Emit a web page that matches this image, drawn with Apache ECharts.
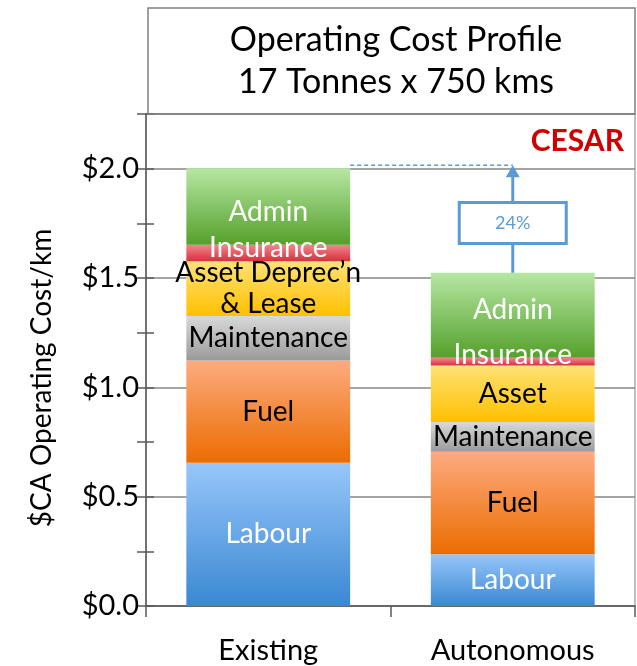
<!DOCTYPE html>
<html>
<head>
<meta charset="utf-8">
<script src="https://cdn.jsdelivr.net/npm/echarts@6/dist/echarts.min.js"></script>
<style>
  html, body { margin: 0; padding: 0; background: #fff; }
  #chart { width: 637px; height: 666px; }
</style>
</head>
<body>
<div id="chart"></div>
<script>
// data ($CA per km)
const categories = ['Existing', 'Autonomous'];
const labour = [0.655, 0.237];
const fuel = [0.468, 0.468];
const maintenance = [0.203, 0.137];
const asset = [0.251, 0.258];
const insurance = [0.075, 0.035];
const admin = [0.350, 0.389];
const assetLabels = ['Asset Deprec\u2019n\n& Lease', 'Asset'];
const changeLabel = '24%';

const FONT = 'Lato, "Open Sans", sans-serif';
const BLUE = '#5b9bd5';

function grad (top, bottom) {
  return new echarts.graphic.LinearGradient(0, 0, 0, 1, [
    { offset: 0, color: top },
    { offset: 1, color: bottom }
  ]);
}

function segment (name, values, top, bottom, textColor, offsets, fmt) {
  return {
    name: name,
    type: 'bar',
    stack: 'cost',
    barWidth: '67%',
    data: values.map((v, i) => ({
      value: v,
      label: { offset: [0, offsets ? offsets[i] : 0] }
    })),
    itemStyle: { color: grad(top, bottom) },
    label: {
      show: true,
      position: 'inside',
      color: textColor,
      fontFamily: FONT,
      fontSize: 28,
      lineHeight: 31,
      formatter: fmt || name
    },
    emphasis: { disabled: true }
  };
}

const chart = echarts.init(document.getElementById('chart'));

chart.setOption({
  animation: false,
  title: {
    text: 'Operating Cost Profile\n17 Tonnes x 750 kms',
    left: 391,
    top: 14,
    textAlign: 'center',
    textStyle: { fontFamily: FONT, fontSize: 34, fontWeight: 'normal', color: '#000', lineHeight: 42 }
  },
  grid: {
    left: 146, right: 2, top: 114, bottom: 60,
    show: true, borderColor: '#808080', borderWidth: 1
  },
  xAxis: {
    type: 'category',
    data: categories,
    axisLine: { lineStyle: { color: '#595959', width: 1.5 } },
    axisTick: { show: true, length: 11, lineStyle: { color: '#595959', width: 1.5 } },
    axisLabel: { fontFamily: FONT, fontSize: 29, color: '#000', margin: 30 }
  },
  yAxis: [{
    type: 'value',
    min: 0, max: 2.25, interval: 0.25,
    name: '$CA Operating Cost/km',
    nameLocation: 'middle',
    nameGap: 90,
    nameTextStyle: { fontFamily: FONT, fontSize: 28, color: '#000', padding: [0, 36, 0, 0] },
    axisLine: { show: true, lineStyle: { color: '#595959', width: 1.5 } },
    axisTick: { show: true, length: 9, lineStyle: { color: '#595959', width: 1.5 } },
    splitLine: { show: false },
    axisLabel: {
      fontFamily: FONT, fontSize: 29, color: '#000', margin: 7,
      formatter: v => (Math.round(v * 100) % 50 === 0 && v <= 2) ? '$' + v.toFixed(1) : ''
    }
  }, {
    type: 'value',
    min: 0, max: 2.25, interval: 0.25,
    position: 'left',
    axisLine: { show: false },
    axisTick: { show: true, inside: true, length: 8, lineStyle: { color: '#595959', width: 1.5 } },
    axisLabel: { show: false },
    splitLine: { show: false }
  }, {
    type: 'value',
    min: 0, max: 2.25, interval: 0.5,
    position: 'left',
    axisLine: { show: false },
    axisTick: { show: false },
    axisLabel: { show: false },
    splitLine: {
      show: true,
      lineStyle: { color: '#868686', width: 1.5 }
    }
  }],
  series: [
    segment('Labour', labour, '#97c6fa', '#3a88d2', '#fff'),
    segment('Fuel', fuel, '#fdab80', '#ec6c00', '#000'),
    segment('Maintenance', maintenance, '#d9d9d9', '#9a9a9a', '#000'),
    segment('Asset', asset, '#ffe274', '#ffc000', '#000', null, p => assetLabels[p.dataIndex]),
    segment('Insurance', insurance, '#f3858d', '#d7313e', '#fff', [-5, -7]),
    segment('Admin', admin, '#b6e7a3', '#55a02b', '#fff', [5, -5])
  ]
});

// change annotation between the two totals
const totals = categories.map((c, i) =>
  labour[i] + fuel[i] + maintenance[i] + asset[i] + insurance[i] + admin[i]);
const pE = chart.convertToPixel({ gridIndex: 0 }, [categories[0], totals[0]]);
const pA = chart.convertToPixel({ gridIndex: 0 }, [categories[1], totals[1]]);
const halfBar = (pA[0] - pE[0]) * 0.67 / 2;
const yTop = pE[1] - 3;
const boxW = 107, boxH = 41;
const boxCy = (pA[1] + yTop) / 2 + 4;

chart.setOption({
  graphic: [
    { type: 'rect', z: 100, shape: { x: 148, y: 8, width: 487, height: 106 },
      style: { fill: 'none', stroke: '#808080', lineWidth: 1.5 } },
    { type: 'text', z: 100, x: 624, y: 141,
      style: { text: 'CESAR', fill: '#d00000', font: 'bold 30px ' + FONT, align: 'right', verticalAlign: 'middle' } },
    { type: 'line', z: 100, shape: { x1: pE[0] + halfBar, y1: yTop, x2: pA[0], y2: yTop },
      style: { stroke: BLUE, lineWidth: 1.5, lineDash: [4, 3] } },
    { type: 'line', z: 100, shape: { x1: pA[0], y1: pA[1], x2: pA[0], y2: yTop + 10 },
      style: { stroke: BLUE, lineWidth: 3 } },
    { type: 'polygon', z: 100, shape: { points: [[pA[0] - 7, yTop + 12], [pA[0] + 7, yTop + 12], [pA[0], yTop]] },
      style: { fill: BLUE } },
    { type: 'rect', z: 101, shape: { x: pA[0] - boxW / 2, y: boxCy - boxH / 2, width: boxW, height: boxH },
      style: { fill: '#fff', stroke: BLUE, lineWidth: 3 } },
    { type: 'text', z: 102, x: pA[0], y: boxCy,
      style: { text: changeLabel, fill: BLUE, font: '18px ' + FONT, align: 'center', verticalAlign: 'middle' } }
  ]
});
</script>
</body>
</html>
